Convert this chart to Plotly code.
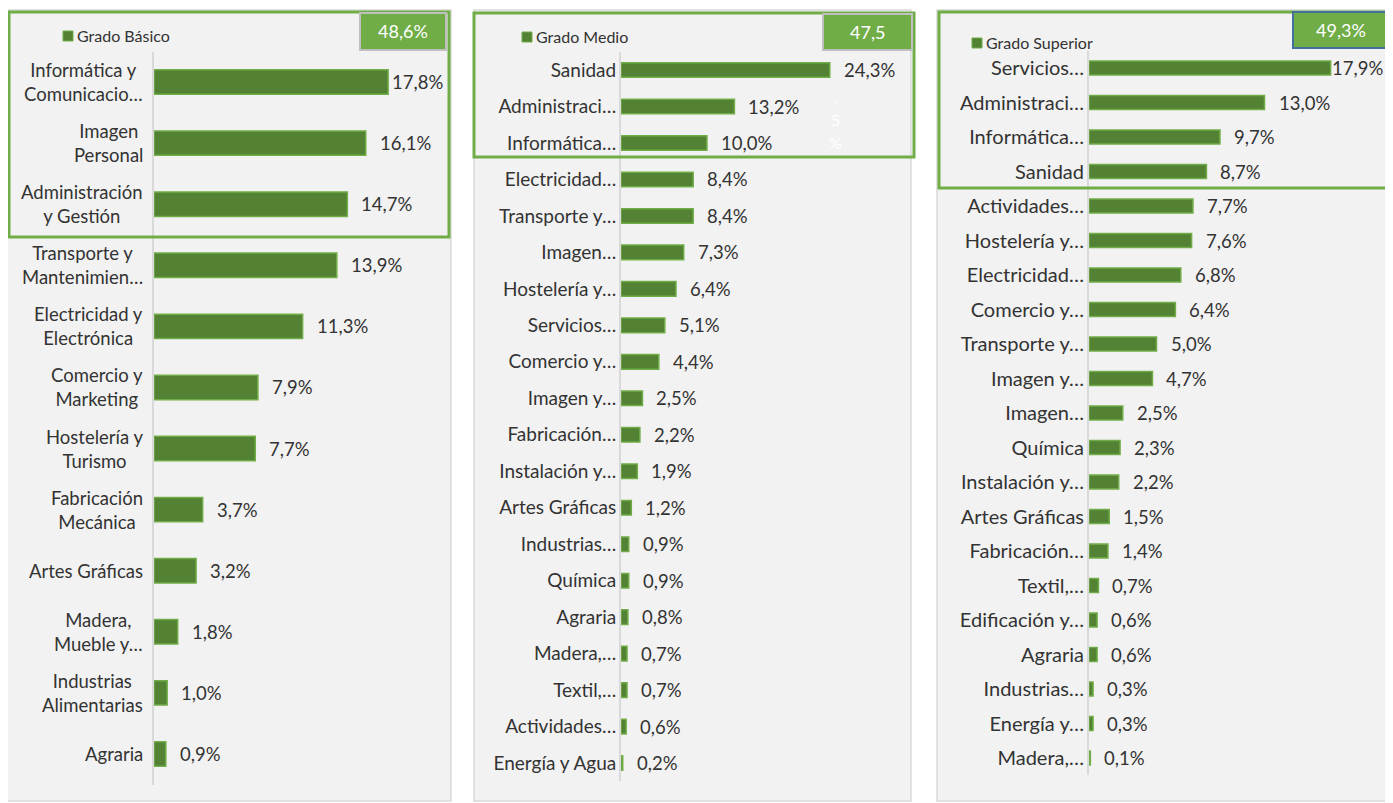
import plotly.graph_objects as go

# The page body has an 8px default margin; the figure is sized so that it fills the window exactly.
OFF = 8
W, H = 1393 - OFF, 803 - OFF

# ---------------- data ----------------
basico_cats = ["Informática y<br>Comunicacio…", "Imagen<br>Personal", "Administración<br>y Gestión",
               "Transporte y<br>Mantenimien…", "Electricidad y<br>Electrónica", "Comercio y<br>Marketing",
               "Hostelería y<br>Turismo", "Fabricación<br>Mecánica", "Artes Gráficas",
               "Madera,<br>Mueble y…", "Industrias<br>Alimentarias", "Agraria"]
basico_vals = [17.8, 16.1, 14.7, 13.9, 11.3, 7.9, 7.7, 3.7, 3.2, 1.8, 1.0, 0.9]

medio_cats = ["Sanidad", "Administraci…", "Informática…", "Electricidad…", "Transporte y…", "Imagen…",
              "Hostelería y…", "Servicios…", "Comercio y…", "Imagen y…", "Fabricación…", "Instalación y…",
              "Artes Gráficas", "Industrias…", "Química", "Agraria", "Madera,…", "Textil,…",
              "Actividades…", "Energía y Agua"]
medio_vals = [24.3, 13.2, 10.0, 8.4, 8.4, 7.3, 6.4, 5.1, 4.4, 2.5, 2.2, 1.9, 1.2, 0.9, 0.9, 0.8, 0.7, 0.7, 0.6, 0.2]

superior_cats = ["Servicios…", "Administraci…", "Informática…", "Sanidad", "Actividades…", "Hostelería y…",
                 "Electricidad…", "Comercio y…", "Transporte y…", "Imagen y…", "Imagen…", "Química",
                 "Instalación y…", "Artes Gráficas", "Fabricación…", "Textil,…", "Edificación y…", "Agraria",
                 "Industrias…", "Energía y…", "Madera,…"]
superior_vals = [17.9, 13.0, 9.7, 8.7, 7.7, 7.6, 6.8, 6.4, 5.0, 4.7, 2.5, 2.3, 2.2, 1.5, 1.4, 0.7, 0.6, 0.6, 0.3, 0.3, 0.1]

series_names = ["Grado Básico", "Grado Medio", "Grado Superior"]
top_share_labels = ["48,6%", "47,5", "49,3%"]

# ---------------- helpers (screen pixels -> paper fractions) ----------------
def px(x):
    return (x - OFF) / W

def py(y):
    return 1 - (y - OFF) / H

FONT = "Lato"
TXT = "#333333"
BAR = "#548235"
BAR_LINE = "#70ad47"
GREEN = "#70ad47"
LBL = 18.5

panels = [
    dict(cats=basico_cats, vals=basico_vals, xdom=(154, 446), xmax=22.2, ydom=(51.5, 784.5),
         bg=(7, 10, 451, 801), frame=(9, 12, 449, 237), box=(360, 13, 446, 50), boxline="#bfbfbf",
         leg=(63, 36), limit=444, ticklabels=False, tick=19),
    dict(cats=medio_cats, vals=medio_vals, xdom=(621, 908), xmax=33.4, ydom=(51.8, 781.3),
         bg=(474, 10, 911, 801), frame=(474, 13, 914, 157), box=(823, 14, 912, 50), boxline="#bfbfbf",
         leg=(522, 37), limit=905, ticklabels=True, tick=19),
    dict(cats=superior_cats, vals=superior_vals, xdom=(1089, 1386), xmax=22.0, ydom=(50.75, 775.25),
         bg=(937, 10, 1391, 801), frame=(939, 12, 1390, 188), box=(1293, 12, 1389, 48), boxline="#41719c",
         leg=(972, 43), limit=1384, ticklabels=True, tick=20),
]

fig = go.Figure()
shapes = []
annotations = []
layout_axes = {}

for i, p in enumerate(panels):
    sfx = "" if i == 0 else str(i + 1)
    xa, ya = "x" + sfx, "y" + sfx
    n = len(p["cats"])

    fig.add_trace(go.Bar(
        x=p["vals"], y=p["cats"], orientation="h", xaxis=xa, yaxis=ya, width=0.4,
        marker=dict(color=BAR, line=dict(color=BAR_LINE, width=1.5)),
        hoverinfo="skip", showlegend=False,
    ))

    layout_axes["xaxis" + sfx] = dict(
        domain=[px(p["xdom"][0]), px(p["xdom"][1])], range=[0, p["xmax"]], anchor=ya,
        showgrid=False, zeroline=False, showticklabels=False, showline=False, fixedrange=True,
    )
    layout_axes["yaxis" + sfx] = dict(
        domain=[py(p["ydom"][1]), py(p["ydom"][0])], anchor=xa, type="category",
        categoryorder="array", categoryarray=p["cats"], range=[n - 0.5, -0.5],
        showgrid=False, zeroline=False, showline=True, linecolor="#d9d9d9", linewidth=2,
        ticks="", showticklabels=p["ticklabels"], ticklabelstandoff=-1,
        tickfont=dict(family=FONT, size=p["tick"], color=TXT), fixedrange=True,
    )

    # panel background
    x0, y0, x1, y1 = p["bg"]
    shapes.append(dict(type="rect", xref="paper", yref="paper", x0=px(x0), x1=px(x1), y0=py(y1), y1=py(y0),
                       fillcolor="#f2f2f2", line=dict(color="#d9d9d9", width=1.5), layer="below"))
    # highlight frame
    x0, y0, x1, y1 = p["frame"]
    shapes.append(dict(type="rect", xref="paper", yref="paper", x0=px(x0), x1=px(x1), y0=py(y1), y1=py(y0),
                       fillcolor="rgba(0,0,0,0)", line=dict(color=GREEN, width=3), layer="above"))
    # share box
    x0, y0, x1, y1 = p["box"]
    shapes.append(dict(type="rect", xref="paper", yref="paper", x0=px(x0), x1=px(x1), y0=py(y1), y1=py(y0),
                       fillcolor=GREEN, line=dict(color=p["boxline"], width=2), layer="above"))
    annotations.append(dict(x=px((x0 + x1) / 2), y=py((y0 + y1) / 2), xref="paper", yref="paper",
                            text=top_share_labels[i], showarrow=False, xanchor="center", yanchor="middle",
                            font=dict(family=FONT, size=18, color="white")))
    # legend
    lx, ly = p["leg"]
    shapes.append(dict(type="rect", xref="paper", yref="paper", x0=px(lx), x1=px(lx + 10), y0=py(ly + 5),
                       y1=py(ly - 5), fillcolor=BAR, line=dict(color=BAR_LINE, width=1), layer="above"))
    annotations.append(dict(x=px(lx + 12), y=py(ly), xref="paper", yref="paper", text=series_names[i],
                            showarrow=False, xanchor="left", yanchor="middle",
                            font=dict(family=FONT, size=16, color=TXT)))

    # data labels
    pxper = (p["xdom"][1] - p["xdom"][0]) / p["xmax"]
    for c, v in zip(p["cats"], p["vals"]):
        bar_end = p["xdom"][0] + v * pxper
        shift = min(12, p["limit"] - bar_end - 54)
        annotations.append(dict(x=v, y=c, xref=xa, yref=ya, text=f"{v:.1f}".replace(".", ",") + "%",
                                showarrow=False, xanchor="left", yanchor="middle", xshift=shift,
                                font=dict(family=FONT, size=LBL, color=TXT)))

    # centered multi-line category labels for the first panel
    if not p["ticklabels"]:
        for c in p["cats"]:
            annotations.append(dict(x=px(145), y=c, xref="paper", yref=ya, text=c, showarrow=False,
                                    xanchor="right", yanchor="middle", align="center",
                                    font=dict(family=FONT, size=LBL, color=TXT)))

# overflow fragments of the middle box label (white)
for t, yy in [(",", 85), ("5", 108), ("%", 131)]:
    annotations.append(dict(x=px(836), y=py(yy), xref="paper", yref="paper", text=t, showarrow=False,
                            font=dict(family=FONT, size=16, color="white")))

fig.update_layout(
    width=W, height=H, margin=dict(l=0, r=0, t=0, b=0),
    paper_bgcolor="white", plot_bgcolor="rgba(0,0,0,0)",
    shapes=shapes, annotations=annotations, showlegend=False,
    font=dict(family=FONT, color=TXT), **layout_axes,
)

fig.write_html("out.html")
